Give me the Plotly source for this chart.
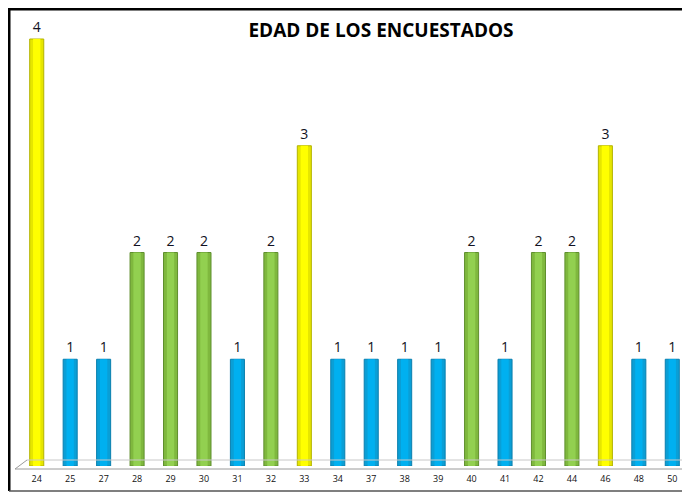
import plotly.graph_objects as go

edades = ["24", "25", "27", "28", "29", "30", "31", "32", "33", "34",
          "37", "38", "39", "40", "41", "42", "44", "46", "48", "50"]
cantidad = [4, 1, 1, 2, 2, 2, 1, 2, 3, 1, 1, 1, 1, 2, 1, 2, 2, 3, 1, 1]

base_col = {1: "#0a9fd6", 2: "#7fb83e", 3: "#e6e600", 4: "#e6e600"}
mid_col = {1: "#00B0F0", 2: "#92D050", 3: "#FFFF00", 4: "#FFFF00"}
edge_col = {1: "#0a7fae", 2: "#5f8f2e", 3: "#b3b300", 4: "#b3b300"}

fig = go.Figure()
fig.add_trace(go.Bar(
    x=edades, y=cantidad, width=0.42,
    marker=dict(color=[base_col[v] for v in cantidad],
                line=dict(color=[edge_col[v] for v in cantidad], width=1)),
    text=[str(v) for v in cantidad], textposition="outside",
    textfont=dict(family="Open Sans, Liberation Sans, sans-serif", size=14, color="#111122"),
    cliponaxis=False, hoverinfo="skip", showlegend=False,
))
fig.add_trace(go.Bar(
    x=edades, y=cantidad, width=0.22,
    marker=dict(color=[mid_col[v] for v in cantidad], line=dict(width=0)),
    hoverinfo="skip", showlegend=False,
))

# page body has an 8px margin: work in reference pixels and shift
OFF = 8
W, H = 682, 485
L, R, T, B = 20 - OFF, 1, 0, 27
pw, ph = W - L - R, H - T - B
zero_y = H - B          # figure px of y=0
unit = 106.75
ytop = (zero_y - T) / unit

def px(x):  # reference pixel -> paper
    return (x - OFF - L) / pw

def py(y):
    return (zero_y - (y - OFF)) / ph

shapes = [
    dict(type="line", xref="paper", yref="paper", x0=px(9), x1=px(9), y0=py(7), y1=py(491),
         line=dict(color="black", width=3)),
    dict(type="line", xref="paper", yref="paper", x0=px(9), x1=px(700), y0=py(9), y1=py(9),
         line=dict(color="black", width=3)),
    dict(type="line", xref="paper", yref="paper", x0=px(9), x1=px(700), y0=py(491), y1=py(491),
         line=dict(color="#555", width=1.5)),
    dict(type="line", xref="paper", yref="paper", x0=px(15), x1=px(700), y0=py(469), y1=py(469),
         line=dict(color="#9a9a9a", width=1)),
    dict(type="line", xref="paper", yref="paper", x0=px(15), x1=px(27), y0=py(469), y1=py(460),
         line=dict(color="#9a9a9a", width=1)),
    dict(type="line", xref="paper", yref="paper", x0=px(27), x1=px(700), y0=py(460), y1=py(460),
         line=dict(color="#c8c8c8", width=1)),
]

fig.update_layout(
    width=W, height=H,
    margin=dict(l=L, r=R, t=T, b=B, pad=0),
    paper_bgcolor="white", plot_bgcolor="white",
    barmode="overlay",
    title=dict(text="<b>EDAD DE LOS ENCUESTADOS</b>", x=px(381), xref="paper",
               y=1 - (30 - OFF) / H, yref="container", xanchor="center", yanchor="middle",
               font=dict(family="Open Sans, Liberation Sans, sans-serif", size=19, color="black")),
    xaxis=dict(type="category", range=[-0.5, 19.5], showgrid=False, showline=False,
               ticks="", ticklabelstandoff=6,
               tickfont=dict(family="Open Sans, Liberation Sans, sans-serif", size=9, color="#111")),
    yaxis=dict(range=[0, ytop], visible=False, showgrid=False),
    shapes=shapes,
)

fig.write_html("out.html")
